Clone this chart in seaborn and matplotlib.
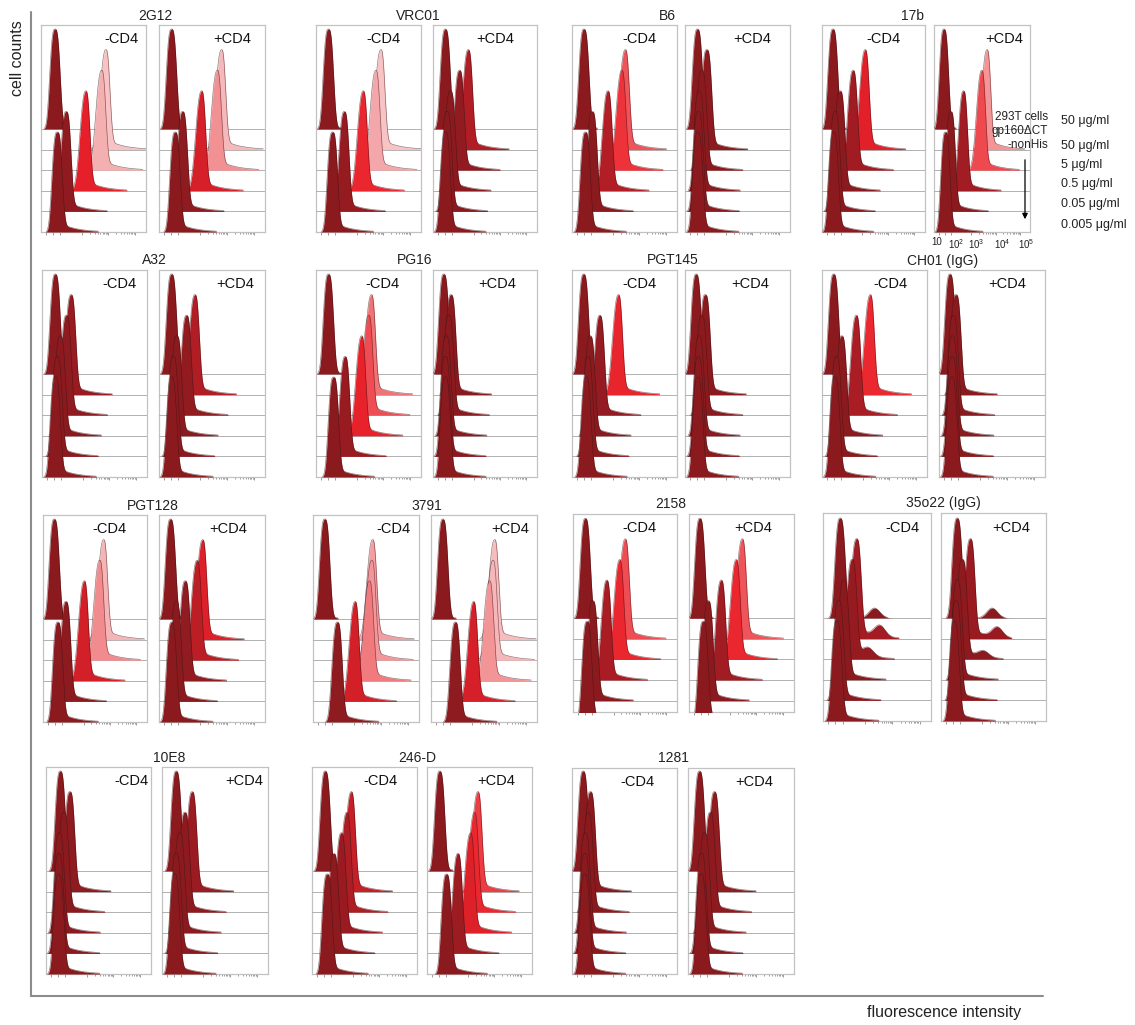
import numpy as np
import matplotlib
matplotlib.use('Agg')
import matplotlib.pyplot as plt
from matplotlib.colors import LinearSegmentedColormap
from matplotlib.lines import Line2D
from matplotlib.patches import FancyArrowPatch
import seaborn as sns

# ---------------- data ----------------
antibodies = ['2G12', 'VRC01', 'B6', '17b',
              'A32', 'PG16', 'PGT145', 'CH01 (IgG)',
              'PGT128', '3791', '2158', '35o22 (IgG)',
              '10E8', '246-D', '1281']

# rows of each panel, top to bottom (top row = 293T cells gp160dCT-nonHis)
concentrations = ['50 μg/ml', '50 μg/ml', '5 μg/ml', '0.5 μg/ml',
                  '0.05 μg/ml', '0.005 μg/ml']

# histogram peak, log10(fluorescence intensity), rows top -> bottom
peaks_minus_cd4 = [
    [1.98, 3.91, 3.75, 3.15, 2.40, 2.06],   # 2G12
    [1.92, 3.91, 3.72, 3.24, 2.52, 2.07],   # VRC01
    [1.90, 3.47, 3.34, 2.81, 2.21, 1.95],   # B6
    [1.87, 3.12, 2.65, 2.14, 1.95, 1.89],   # 17b
    [1.95, 2.55, 2.37, 2.14, 2.02, 1.95],   # A32
    [1.92, 3.55, 3.45, 3.18, 2.55, 2.11],   # PG16
    [1.89, 3.21, 2.50, 2.13, 2.05, 1.98],   # PGT145
    [1.89, 3.28, 2.75, 2.19, 1.99, 1.93],   # CH01
    [1.88, 3.77, 3.62, 3.03, 2.32, 2.01],   # PGT128
    [1.89, 3.69, 3.66, 3.57, 3.03, 2.36],   # 3791
    [1.92, 3.45, 3.24, 2.74, 2.20, 1.98],   # 2158
    [2.08, 2.69, 2.52, 2.21, 2.02, 1.95],   # 35o22
    [1.99, 2.35, 2.12, 1.95, 1.93, 1.93],   # 10E8
    [1.95, 2.94, 2.77, 2.56, 2.27, 2.02],   # 246-D
    [1.87, 2.14, 2.06, 1.95, 1.93, 1.93],   # 1281
]
peaks_plus_cd4 = [
    [1.92, 3.80, 3.64, 3.05, 2.33, 2.05],
    [1.92, 2.80, 2.46, 2.11, 1.98, 1.92],
    [1.92, 2.27, 2.08, 1.98, 1.95, 1.93],
    [1.86, 3.65, 3.43, 2.67, 2.14, 1.92],
    [1.92, 2.80, 2.48, 2.11, 1.98, 1.92],
    [1.86, 2.13, 2.05, 1.95, 1.92, 1.92],
    [1.87, 2.21, 2.08, 1.98, 1.95, 1.93],
    [1.86, 2.08, 1.98, 1.95, 1.94, 1.93],
    [1.88, 3.09, 2.88, 2.43, 2.09, 1.92],
    [1.89, 3.84, 3.78, 3.65, 3.05, 2.36],
    [1.86, 3.47, 3.24, 2.67, 2.17, 1.98],
    [2.06, 2.56, 2.25, 2.06, 2.02, 1.95],
    [1.98, 2.58, 2.30, 2.11, 1.98, 1.92],
    [1.93, 3.38, 3.25, 3.10, 2.62, 2.18],
    [1.88, 2.44, 2.28, 2.07, 1.95, 1.94],
]

# small second population: (antibody, cd4, row) -> (log10 position, relative height)
second_peaks = {
    ('35o22 (IgG)', '-', 0): (3.34, 0.10),
    ('35o22 (IgG)', '-', 1): (3.53, 0.11),
    ('35o22 (IgG)', '-', 2): (3.10, 0.08),
    ('35o22 (IgG)', '+', 0): (3.38, 0.10),
    ('35o22 (IgG)', '+', 1): (3.57, 0.10),
    ('35o22 (IgG)', '+', 2): (3.05, 0.06),
}

axis_labels = ['10', '10$^2$', '10$^3$', '10$^4$', '10$^5$']

# ---------------- style / layout ----------------
sns.set_theme(style='white')
plt.rcParams['font.family'] = ['Liberation Sans', 'DejaVu Sans']
plt.rcParams['mathtext.default'] = 'regular'

W, H = 1135, 1025
XMIN, XMAX = 1.45, 5.42
ROW_PX = 20.6
PEAK = 100 / ROW_PX

# heat colouring of the histograms by intensity
mfi_lo, mfi_hi = 2.2, 3.95
mfi_nodes = [(2.2, '#8b1a1e'), (2.45, '#901b20'), (2.7, '#a41c23'),
             (2.95, '#c61f27'), (3.15, '#e6202a'), (3.3, '#ec2930'),
             (3.45, '#ee4e53'), (3.62, '#f28b8e'), (3.78, '#f5b7b9'),
             (3.95, '#f7c6c7')]
cmap = LinearSegmentedColormap.from_list(
    'mfi', [((d - mfi_lo) / (mfi_hi - mfi_lo), c) for d, c in mfi_nodes])

# (minus x0, x1, plus x0, x1, top, bottom, title x, label fx minus, label fx plus)
groups = [
    (41, 146, 159, 265, 25, 232, 155, 0.77, 0.69),
    (316, 421, 433, 537, 25, 232, 418, 0.64, 0.60),
    (572, 677, 685, 790, 25, 232, 667, 0.64, 0.64),
    (822, 925, 934, 1030, 25, 232, 913, 0.60, 0.73),
    (42, 147, 159, 265, 270, 477, 154, 0.74, 0.72),
    (316, 421, 433, 537, 270, 477, 415, 0.63, 0.62),
    (572, 677, 685, 790, 270, 477, 673, 0.64, 0.62),
    (822, 927, 939, 1045, 270, 477, 943, 0.65, 0.64),
    (43, 147, 159, 265, 515, 722, 153, 0.64, 0.65),
    (313, 419, 431, 537, 515, 722, 427, 0.76, 0.75),
    (573, 677, 689, 794, 514, 712, 671, 0.64, 0.61),
    (823, 931, 941, 1046, 513, 721, 943, 0.74, 0.67),
    (46, 151, 162, 268, 767, 974, 169, 0.81, 0.78),
    (312, 417, 427, 532, 767, 974, 417, 0.65, 0.66),
    (572, 677, 688, 794, 768, 974, 673, 0.62, 0.62),
]

grid = np.linspace(XMIN, XMAX, 900)


def hist_shape(x, mu, control, second=None):
    dx = x - mu
    k = np.clip((mu - 2.2) / 0.8, 0, 1)
    p = 3.0 - 0.5 * k                     # flat-topped low peaks, sharper bright ones
    hw = np.where(dx < 0, 0.21 + 0.04 * k, 0.20 - 0.04 * k)
    s = hw / np.log(2) ** (1 / p)
    y = np.exp(-np.abs(dx / s) ** p)
    amp, reach = (0.025, 0.5) if control else (0.11, 1.55)
    tail = amp * np.exp(-np.clip(dx, 0, None) / 0.6) * (1 - np.exp(-(dx / 0.2) ** 2))
    y = y + np.where((dx > 0) & (dx < reach), tail, 0)
    if second is not None:
        pos, h = second
        y = y + h * np.exp(-0.5 * ((x - pos) / 0.2) ** 2)
    return y / y.max()


def draw_panel(ax, name, sign, peaks, ylo, yhi, label_fx):
    for k, mu in enumerate(peaks):
        base = 5 - k
        f = hist_shape(grid, mu, k == 0, second_peaks.get((name, sign, k)))
        top = base + PEAK * f
        z = 2 + 2 * k
        if k < 5:
            ax.axhline(base, color='#a5a5a5', lw=0.6, zorder=z)
        ax.fill_between(grid, base, top, color=cmap((mu - mfi_lo) / (mfi_hi - mfi_lo)),
                        lw=0, zorder=z + 0.5)
        m = f > 0.004
        sns.lineplot(x=grid[m], y=top[m], ax=ax, color='#3a1416', lw=0.45, alpha=0.6,
                     sort=False, estimator=None, legend=False, zorder=z + 1)
    ax.set_xlim(XMIN, XMAX)
    ax.set_ylim(ylo, yhi)
    ax.set_yticks([])
    ax.set_xticks([1.64, 1.9, 2.17, 3, 4, 5])
    minor = [np.log10(m) + e for e in (3, 4) for m in range(2, 10)]
    ax.set_xticks(minor, minor=True)
    ax.tick_params(axis='x', which='both', bottom=True, direction='out', color='#8a8a8a',
                   labelbottom=False, width=0.6)
    ax.tick_params(axis='x', which='major', length=2.5)
    ax.tick_params(axis='x', which='minor', length=1.2)
    ax.set_xlabel('')
    ax.set_ylabel('')
    for sp in ax.spines.values():
        sp.set_color('#c2c2c2')
        sp.set_linewidth(0.9)
    ax.text(label_fx, 0.93, sign + 'CD4', transform=ax.transAxes, ha='center', va='center',
            fontsize=10.5, color='#111111', zorder=20)


fig = plt.figure(figsize=(W / 100, H / 100), dpi=100)


def rect(x0, x1, y0, y1):
    return [x0 / W, 1 - y1 / H, (x1 - x0) / W, (y1 - y0) / H]


label_axis = None
for i, name in enumerate(antibodies):
    mx0, mx1, px0, px1, top, bottom, tx, fxm, fxp = groups[i]
    ylo = 0.45 if bottom - top < 205 else 0.0
    yhi = ylo + (bottom - top) / ROW_PX
    ax_m = fig.add_axes(rect(mx0, mx1, top, bottom))
    draw_panel(ax_m, name, '-', peaks_minus_cd4[i], ylo, yhi, fxm)
    ax_p = fig.add_axes(rect(px0, px1, top, bottom))
    draw_panel(ax_p, name, '+', peaks_plus_cd4[i], ylo, yhi, fxp)
    fig.text(tx / W, 1 - (top - 9.5) / H, name, ha='center', va='center',
             fontsize=10, color='#222222')
    if name == '17b':
        label_axis = ax_p

# decade labels under the 17b +CD4 panel
for lab, fx in zip(axis_labels, [0.025, 0.235, 0.445, 0.715, 0.96]):
    label_axis.text(fx, -0.025, lab, transform=label_axis.transAxes, ha='center',
                    va='top', fontsize=7, color='#222222')

# concentration key
key_y = [121, 146, 165, 184, 204, 225]
for lab, y in zip(concentrations, key_y):
    fig.text(1061 / W, 1 - y / H, lab, ha='left', va='center', fontsize=9, color='#222222')
fig.text(1048 / W, 1 - 131 / H, '293T cells\ngp160ΔCT\n-nonHis', ha='right', va='center',
         multialignment='right', fontsize=8.5, linespacing=1.2, color='#222222', zorder=30)
fig.add_artist(FancyArrowPatch((1025 / W, 1 - 157 / H), (1025 / W, 1 - 222 / H),
                               transform=fig.transFigure, arrowstyle='-|>',
                               mutation_scale=8, lw=0.9, color='black'))

# outer axes frame
fig.add_artist(Line2D([31 / W, 31 / W], [1 - 12 / H, 1 - 996 / H], color='#8c8c8c', lw=1.5))
fig.add_artist(Line2D([31 / W, 1043 / W], [1 - 996 / H, 1 - 996 / H], color='#8c8c8c', lw=1.5))
fig.text(18 / W, 1 - 58 / H, 'cell counts', rotation=90, ha='center', va='center',
         fontsize=11.5, color='#222222')
fig.text(944 / W, 1 - 1012 / H, 'fluorescence intensity', ha='center', va='center',
         fontsize=11.5, color='#222222')

fig.savefig('out.png', dpi=100)
